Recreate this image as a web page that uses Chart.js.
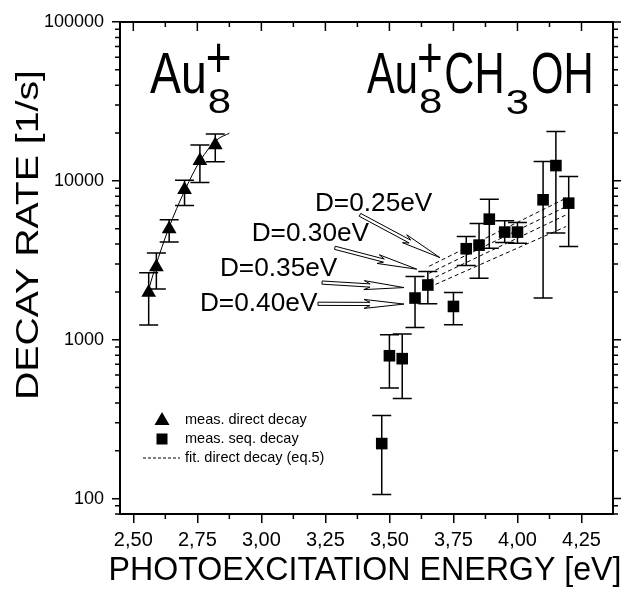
<!DOCTYPE html>
<html><head><meta charset="utf-8">
<script src="https://cdn.jsdelivr.net/npm/chart.js@4.4.1/dist/chart.umd.min.js"></script>
<style>html,body{margin:0;padding:0;background:#fff}canvas{display:block}</style>
</head><body>
<canvas id="c" width="624" height="593"></canvas>
<script>
const FONT = '"Liberation Sans", Arial, Helvetica, sans-serif';

// ---- data ----
const auEnergy   = [2.56, 2.59, 2.64, 2.70, 2.76, 2.82];
const auRate     = [1980, 2870, 4970, 8780, 13400, 16800];
const auErrHigh  = [2640, 3510, 5690, 10100, 16800, 19700];
const auErrLow   = [1240, 2090, 4120, 7000, 9760, 13200];

const methEnergy  = [3.47, 3.50, 3.55, 3.60, 3.65, 3.75, 3.80, 3.85, 3.89, 3.95, 4.00, 4.10, 4.15, 4.20];
const methRate    = [222, 793, 760, 1830, 2210, 1620, 3740, 3940, 5740, 4760, 4760, 7600, 12480, 7240];
const methErrHigh = [334, 1075, 1085, 2500, 2690, 1985, 4470, 5390, 7670, 5600, 5470, 13240, 20420, 10640];
const methErrLow  = [106, 497, 426, 1195, 1683, 1242, 2930, 2440, 3770, 4090, 4055, 1830, 4690, 3860];

const fitEnergy = [2.552, 2.585, 2.637, 2.702, 2.761, 2.826, 2.875];
const fitRate   = [1870, 2830, 4970, 8780, 13400, 18100, 19950];

const dEnergy = [3.655, 4.19];
const d025 = [2900, 7790];
const d030 = [2620, 6890];
const d035 = [2370, 6110];
const d040 = [2140, 5160];

const xTickValues = [2.5, 2.75, 3.0, 3.25, 3.5, 3.75, 4.0, 4.25];
const xTickLabels = ['2,50', '2,75', '3,00', '3,25', '3,50', '3,75', '4,00', '4,25'];
const yTickValues = [100, 1000, 10000, 100000];
const yTickLabels = ['100', '1000', '10000', '100000'];

// annotation anchors in data units (energy, rate)
const dLabels = [
  {text: 'D=0.25eV', at: [3.209, 7115]},
  {text: 'D=0.30eV', at: [2.962, 4642]},
  {text: 'D=0.35eV', at: [2.838, 2796]},
  {text: 'D=0.40eV', at: [2.760, 1684]}
];
const dArrows = [
  {tail: [3.385, 6110], tip: [3.697, 3290]},
  {tail: [3.287, 3790], tip: [3.607, 2780]},
  {tail: [3.237, 2290], tip: [3.557, 2130]},
  {tail: [3.221, 1684], tip: [3.557, 1677]}
];

function pts(xs, ys) { return xs.map((x, i) => ({x: x, y: ys[i]})); }

function txt(ctx, s, x, y, size, o) {
  o = o || {};
  ctx.save();
  ctx.font = size + 'px ' + FONT;
  ctx.fillStyle = '#000';
  ctx.textBaseline = o.baseline || 'alphabetic';
  ctx.textAlign = 'left';
  const w = ctx.measureText(s).width;
  let sx = o.sx || 1;
  if (o.width) sx = o.width / w;
  const sy = o.sy || 1;
  ctx.translate(x, y);
  if (o.rot) ctx.rotate(o.rot);
  ctx.scale(sx, sy);
  let ox = 0;
  if (o.align === 'center') ox = -w / 2; else if (o.align === 'right') ox = -w;
  ctx.fillText(s, ox, 0);
  ctx.restore();
  return w * sx;
}

function hollowArrow(ctx, x1, y1, x2, y2) {
  const dx = x2 - x1, dy = y2 - y1, L = Math.hypot(dx, dy);
  const ux = dx / L, uy = dy / L, nx = -uy, ny = ux;
  const hl = 34, hw = 4.5, sw = 1.6;
  const bx = x2 - ux * hl, by = y2 - uy * hl;
  ctx.beginPath();
  ctx.moveTo(x1 + nx * sw, y1 + ny * sw);
  ctx.lineTo(bx + nx * sw, by + ny * sw);
  ctx.lineTo(bx - ux * 6 + nx * hw, by - uy * 6 + ny * hw);
  ctx.lineTo(x2, y2);
  ctx.lineTo(bx - ux * 6 - nx * hw, by - uy * 6 - ny * hw);
  ctx.lineTo(bx - nx * sw, by - ny * sw);
  ctx.lineTo(x1 - nx * sw, y1 - ny * sw);
  ctx.closePath();
  ctx.stroke();
}

function drawErr(ctx, sx, sy, xs, lo, hi, cap) {
  ctx.save();
  ctx.strokeStyle = '#000';
  ctx.lineWidth = 1.5;
  xs.forEach((e, i) => {
    const x = sx.getPixelForValue(e);
    const y1 = sy.getPixelForValue(hi[i]);
    const y2 = sy.getPixelForValue(lo[i]);
    ctx.beginPath();
    ctx.moveTo(x, y1); ctx.lineTo(x, y2);
    ctx.moveTo(x - cap, y1); ctx.lineTo(x + cap, y1);
    ctx.moveTo(x - cap, y2); ctx.lineTo(x + cap, y2);
    ctx.stroke();
  });
  ctx.restore();
}

const deco = {
  id: 'deco',
  beforeDraw(chart) {
    const ctx = chart.ctx;
    ctx.save(); ctx.fillStyle = '#fff'; ctx.fillRect(0, 0, chart.width, chart.height); ctx.restore();
  },
  beforeDatasetsDraw(chart) {
    const ctx = chart.ctx, sx = chart.scales.x, sy = chart.scales.y;
    drawErr(ctx, sx, sy, auEnergy, auErrLow, auErrHigh, 9.5);
    drawErr(ctx, sx, sy, methEnergy, methErrLow, methErrHigh, 9.5);
  },
  afterDraw(chart) {
    const ctx = chart.ctx, sx = chart.scales.x, sy = chart.scales.y, a = chart.chartArea;
    const P = (e, r) => [sx.getPixelForValue(e), sy.getPixelForValue(r)];
    ctx.save();
    ctx.strokeStyle = '#000';
    // frame top/right
    ctx.lineWidth = 2;
    ctx.beginPath();
    ctx.moveTo(a.left - 1, a.top); ctx.lineTo(a.right, a.top); ctx.lineTo(a.right, a.bottom + 1);
    ctx.stroke();
    // ticks
    ctx.lineWidth = 1.5;
    ctx.beginPath();
    const xMin = sx.min, xMax = sx.max;
    xTickValues.forEach(v => {
      const x = sx.getPixelForValue(v);
      ctx.moveTo(x, a.top); ctx.lineTo(x, a.top + 9);
      [v - 0.125, v + 0.125].forEach(m => {
        if (m > xMin && m < xMax && xTickValues.indexOf(m) < 0) {
          const xm = sx.getPixelForValue(m);
          ctx.moveTo(xm, a.top); ctx.lineTo(xm, a.top + 5);
          ctx.moveTo(xm, a.bottom); ctx.lineTo(xm, a.bottom + 5);
        }
      });
    });
    yTickValues.forEach(v => {
      const y = sy.getPixelForValue(v);
      ctx.moveTo(a.right, y); ctx.lineTo(a.right + 8, y);
    });
    for (let d = 10; d < 100000; d *= 10) {
      for (let k = 2; k <= 9; k++) {
        const v = k * d;
        if (v < sy.min || v > sy.max) continue;
        const y = sy.getPixelForValue(v);
        ctx.moveTo(a.left, y); ctx.lineTo(a.left - 5, y);
        ctx.moveTo(a.right, y); ctx.lineTo(a.right + 5, y);
      }
    }
    ctx.stroke();

    // arrows
    ctx.lineWidth = 1;
    dArrows.forEach(ar => {
      const t = P(ar.tail[0], ar.tail[1]), h = P(ar.tip[0], ar.tip[1]);
      hollowArrow(ctx, t[0], t[1], h[0], h[1]);
    });
    ctx.restore();

    // D labels
    dLabels.forEach(l => {
      const p = P(l.at[0], l.at[1]);
      txt(ctx, l.text, p[0], p[1], 25, {baseline: 'middle', sx: 1.05});
    });

    // species labels
    const base = sy.getPixelForValue(35600);
    let p = sx.getPixelForValue(2.565);
    let w = txt(ctx, 'Au', p, base, 58, {sx: 0.8});
    txt(ctx, '8', p + w + 1, base + 20, 35, {sx: 1.2});
    txt(ctx, '+', p + w + 12, base - 16, 44, {sy: 1.3, align: 'center'});

    p = sx.getPixelForValue(3.412);
    w = txt(ctx, 'Au', p, base, 58, {sx: 0.72});
    let q = p + w + 1;
    const w8 = txt(ctx, '8', q, base + 20, 35, {sx: 1.2});
    txt(ctx, '+', q + 11, base - 16, 44, {sy: 1.3, align: 'center'});
    q += w8 + 2;
    q += txt(ctx, 'CH', q, base, 58, {sx: 0.72}) + 1;
    q += txt(ctx, '3', q, base + 21, 35, {sx: 1.2}) + 2;
    txt(ctx, 'OH', q, base, 58, {sx: 0.72});

    // legend
    ctx.save();
    ctx.fillStyle = '#000';
    const lx = a.left + 42, ly1 = a.bottom - 94, ly2 = a.bottom - 75, ly3 = a.bottom - 56;
    ctx.beginPath();
    ctx.moveTo(lx, ly1 - 8); ctx.lineTo(lx + 7.5, ly1 + 5); ctx.lineTo(lx - 7.5, ly1 + 5); ctx.closePath();
    ctx.fill();
    ctx.fillRect(lx - 5.5, ly2 - 5.5, 11, 11);
    ctx.strokeStyle = '#000'; ctx.lineWidth = 1; ctx.setLineDash([3, 2]);
    ctx.beginPath(); ctx.moveTo(a.left + 23, ly3); ctx.lineTo(a.left + 60, ly3); ctx.stroke();
    ctx.restore();
    txt(ctx, 'meas. direct decay', a.left + 65, ly1, 14.5, {baseline: 'middle'});
    txt(ctx, 'meas. seq. decay', a.left + 65, ly2, 14.5, {baseline: 'middle'});
    txt(ctx, 'fit. direct decay (eq.5)', a.left + 65, ly3, 14.5, {baseline: 'middle'});

    // axis titles
    txt(ctx, 'PHOTOEXCITATION ENERGY [eV]', 365, 580, 34, {align: 'center', width: 513});
    txt(ctx, 'DECAY RATE [1/s]', 38, 235, 32, {align: 'center', rot: -Math.PI / 2, width: 330});
  }
};

const lineDs = (data) => ({
  data: data, showLine: true, pointRadius: 0, borderColor: '#000', borderWidth: 1,
  borderDash: [4, 3], fill: false
});

new Chart(document.getElementById('c'), {
  type: 'scatter',
  data: {
    datasets: [
      {label: 'meas. direct decay', data: pts(auEnergy, auRate), pointStyle: 'triangle', pointRadius: 8.5,
       backgroundColor: '#000', borderColor: '#000', borderWidth: 0},
      {label: 'meas. seq. decay', data: pts(methEnergy, methRate), pointStyle: 'rect', pointRadius: 8.2,
       backgroundColor: '#000', borderColor: '#000', borderWidth: 0},
      {label: 'fit. direct decay (eq.5)', data: pts(fitEnergy, fitRate), showLine: true, pointRadius: 0,
       borderColor: '#000', borderWidth: 1, cubicInterpolationMode: 'monotone'},
      lineDs(pts(dEnergy, d025)),
      lineDs(pts(dEnergy, d030)),
      lineDs(pts(dEnergy, d035)),
      lineDs(pts(dEnergy, d040))
    ]
  },
  options: {
    responsive: false,
    animation: false,
    layout: {padding: {top: 22, right: 11, left: 0, bottom: 0}},
    plugins: {legend: {display: false}, tooltip: {enabled: false}},
    scales: {
      x: {
        type: 'linear', min: 2.448, max: 4.373,
        afterBuildTicks: s => { s.ticks = xTickValues.map(v => ({value: v})); },
        afterFit: s => { s.height = 79; },
        ticks: {
          callback: v => xTickLabels[xTickValues.indexOf(v)],
          color: '#000', font: {family: FONT, size: 20}, padding: 5, maxRotation: 0, autoSkip: false
        },
        grid: {display: true, drawOnChartArea: false, drawTicks: true, tickLength: 9, color: '#000', lineWidth: 1.5},
        border: {display: true, color: '#000', width: 2}
      },
      y: {
        type: 'logarithmic', min: 80, max: 100000,
        afterBuildTicks: s => { s.ticks = yTickValues.map(v => ({value: v})); },
        afterFit: s => { s.width = 120; },
        ticks: {
          callback: v => yTickLabels[yTickValues.indexOf(v)],
          color: '#000', font: {family: FONT, size: 18}, padding: 8, autoSkip: false
        },
        grid: {display: true, drawOnChartArea: false, drawTicks: true, tickLength: 8, color: '#000', lineWidth: 1.5},
        border: {display: true, color: '#000', width: 2}
      }
    }
  },
  plugins: [deco]
});
</script>
</body></html>
